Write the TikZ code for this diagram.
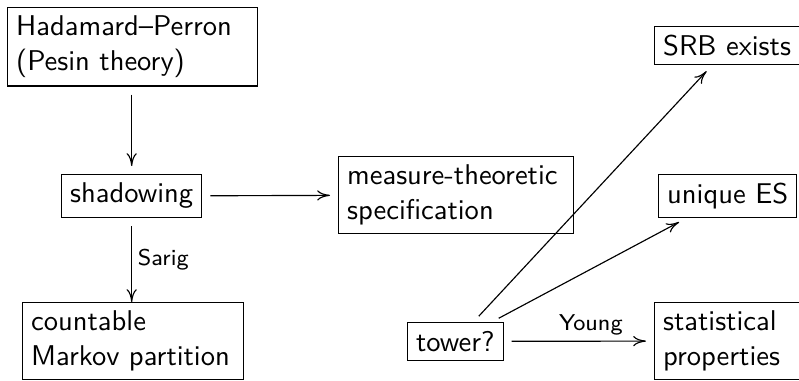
\documentclass[tikz,border=0pt]{standalone}
\usetikzlibrary{arrows.meta}
\renewcommand{\familydefault}{\sfdefault}
\begin{document}
\begin{tikzpicture}[x=0.35pt,y=-0.35pt,
  box/.style={draw, inner sep=3pt, align=left, anchor=north west, font=\sffamily},
  arr/.style={-{Computer Modern Rightarrow[length=4.5pt, width=3.6pt]}, shorten <=2.8pt, shorten >=2.8pt},
  lab/.style={font=\sffamily\footnotesize, inner sep=2pt}]
\useasboundingbox (0,0) rectangle (799,380);
\clip (0,0) rectangle (799,380);
\node[box, text width=81.5pt] (hp) at (7,7) {Hadamard--Perron\\(Pesin theory)};
\node[box] (sh) at (61,174) {shadowing};
\node[box, text width=76.2pt] (mt) at (338,156) {measure-theoretic\\specification};
\node[box, text width=71.4pt] (cm) at (22,302) {countable\\Markov partition};
\node[box, text width=47pt] (srb) at (654,26) {SRB exists};
\node[box] (ues) at (658,174) {unique ES};
\node[box, text width=48pt] (st) at (654,302) {statistical\\properties};
\node[box] (tw) at (407,322) {tower?};
\draw[arr] (hp.south -| sh.north) -- (sh.north);
\draw[arr] (sh) -- (mt);
\draw[arr, shorten >=0pt] (sh.south) -- node[lab, right] {Sarig} (cm.north -| sh.south);
\draw[arr] (tw) -- node[lab, above, pos=0.58] {Young} (st);
\draw[arr] (tw) -- (srb);
\draw[arr] (tw) -- (ues);
\end{tikzpicture}
\end{document}
